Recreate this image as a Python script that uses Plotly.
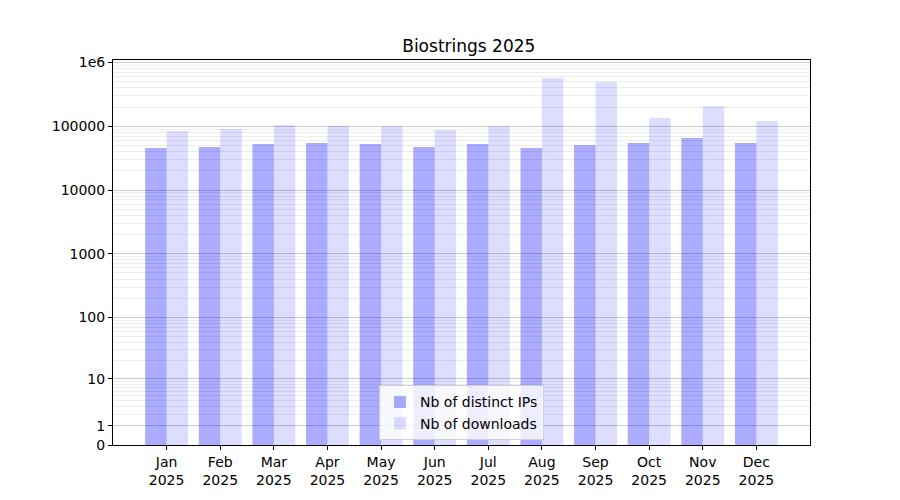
import numpy as np
import plotly.graph_objects as go

months = ["Jan", "Feb", "Mar", "Apr", "May", "Jun", "Jul", "Aug", "Sep", "Oct", "Nov", "Dec"]
year = "2025"
distinct_ips = [45600, 47300, 52700, 54700, 52700, 47300, 52700, 45600, 50800, 54700, 65500, 54700]
downloads = [84400, 90700, 104800, 101100, 100500, 87500, 100000, 572000, 495000, 135000, 208000, 121000]

y_tick_values = [0, 1, 10, 100, 1000, 10000, 100000, 1000000]
y_tick_labels = ["0", "1", "10", "100", "1000", "10000", "100000", "1e6"]


def scale(v):
    # axis is log10(1 + x), so 0 can be shown
    return np.log10(1 + np.asarray(v, dtype=float))


x = np.arange(len(months))
minor_vals = [m * 10 ** d for d in range(0, 6) for m in range(2, 10)]

fig = go.Figure()
fig.add_trace(go.Bar(
    x=x - 0.2, y=scale(distinct_ips), width=0.4,
    name="Nb of distinct IPs",
    marker={"color": "rgba(0,0,255,0.33)", "line": {"width": 0}},
))
fig.add_trace(go.Bar(
    x=x + 0.2, y=scale(downloads), width=0.4,
    name="Nb of downloads",
    marker={"color": "rgba(0,0,255,0.135)", "line": {"width": 0}},
))

# the page adds an 8px body margin, so margins are shifted to compensate
fig.update_layout(
    width=900, height=500,
    margin={"l": 105, "r": 98, "t": 52, "b": 63},
    paper_bgcolor="white", plot_bgcolor="white",
    font={"family": "DejaVu Sans", "size": 14, "color": "black"},
    title={"text": "Biostrings 2025", "x": 0.512, "xanchor": "center",
           "y": 0.924, "yanchor": "middle", "font": {"size": 17}},
    barmode="overlay",
    showlegend=True,
    legend={"x": 0.5, "y": 0.012, "xanchor": "center", "yanchor": "bottom",
            "bgcolor": "rgba(255,255,255,0.8)", "bordercolor": "#d0d0d0",
            "borderwidth": 1, "font": {"size": 14}, "tracegroupgap": 0},
    xaxis={
        "range": [-1, 12],
        "tickmode": "array",
        "tickvals": list(x),
        "ticktext": [f"{m}<br>{year}" for m in months],
        "ticks": "outside", "ticklen": 4, "tickcolor": "black",
        "showline": True, "linecolor": "black", "linewidth": 1, "mirror": True,
        "showgrid": False, "zeroline": False,
    },
    yaxis={
        "range": [0, 6.04],
        "tickmode": "array",
        "tickvals": list(scale(y_tick_values)),
        "ticktext": y_tick_labels,
        "ticks": "outside", "ticklen": 4, "tickcolor": "black",
        "showline": True, "linecolor": "black", "linewidth": 1, "mirror": True,
        "showgrid": True, "gridcolor": "rgba(0,0,0,0.2)", "gridwidth": 1,
        "zeroline": False,
        "minor": {"tickmode": "array", "tickvals": list(scale(minor_vals)),
                  "showgrid": True, "gridcolor": "rgba(0,0,0,0.07)",
                  "gridwidth": 1, "ticks": ""},
    },
)

fig.write_html("out.html")
